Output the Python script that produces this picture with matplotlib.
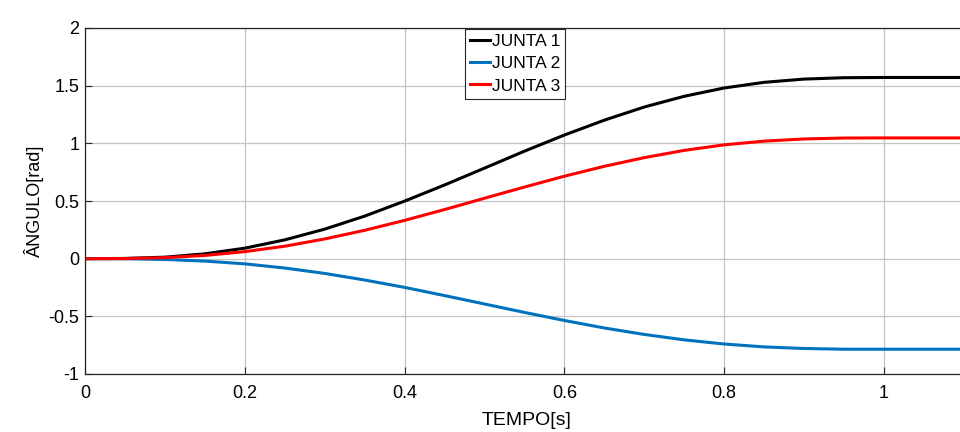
import matplotlib.pyplot as plt

plt.rcParams['font.family'] = ['Liberation Sans', 'DejaVu Sans']

# tempo [s]
tempo = [0.00, 0.05, 0.10, 0.15, 0.20, 0.25, 0.30, 0.35, 0.40, 0.45, 0.50,
         0.55, 0.60, 0.65, 0.70, 0.75, 0.80, 0.85, 0.90, 0.95, 1.00, 1.05, 1.10]

# ângulo das juntas [rad]
junta1 = [0.000, 0.002, 0.013, 0.042, 0.091, 0.163, 0.256, 0.369, 0.499, 0.639, 0.785,
          0.932, 1.072, 1.201, 1.315, 1.408, 1.480, 1.529, 1.557, 1.569, 1.571, 1.571, 1.571]
junta2 = [0.000, -0.001, -0.007, -0.021, -0.045, -0.081, -0.128, -0.185, -0.249, -0.320, -0.393,
          -0.466, -0.536, -0.601, -0.657, -0.704, -0.740, -0.765, -0.779, -0.785, -0.785, -0.785, -0.785]
junta3 = [0.000, 0.001, 0.009, 0.028, 0.061, 0.108, 0.171, 0.246, 0.332, 0.426, 0.524,
          0.621, 0.715, 0.801, 0.876, 0.939, 0.987, 1.019, 1.038, 1.046, 1.047, 1.047, 1.047]

xticks = [0, 0.2, 0.4, 0.6, 0.8, 1]
yticks = [-1, -0.5, 0, 0.5, 1, 1.5, 2]

fig = plt.figure(figsize=(9.6, 4.32), dpi=100)
# o eixo termina um pouco depois da borda direita
ax = fig.add_axes([85 / 960, 1 - 374 / 432, 1.105 * 799 / 960, 346 / 432])

ax.plot(tempo, junta1, color='black', lw=2.2, label='JUNTA 1')
ax.plot(tempo, junta2, color='#0072BD', lw=2.2, label='JUNTA 2')
ax.plot(tempo, junta3, color='#FF0000', lw=2.2, label='JUNTA 3')

ax.set_xlim(0, 1.105)
ax.set_ylim(-1, 2)
ax.set_xticks(xticks)
ax.set_xticklabels(['0', '0.2', '0.4', '0.6', '0.8', '1'])
ax.set_yticks(yticks)
ax.set_yticklabels(['-1', '-0.5', '0', '0.5', '1', '1.5', '2'])
ax.tick_params(direction='in', length=5, width=0.8, colors='#262626',
               labelsize=13, labelcolor='black')
ax.tick_params(axis='x', pad=8)
ax.tick_params(axis='y', pad=4)
ax.grid(True, color='#c4c4c4', lw=0.9)
ax.set_axisbelow(True)
for sp in ax.spines.values():
    sp.set_color('#262626')
    sp.set_linewidth(0.9)

ax.set_xlabel('TEMPO[s]', fontsize=14, labelpad=7)
ax.set_ylabel('ÂNGULO[rad]', fontsize=13, labelpad=3)

leg = fig.legend(loc='upper left', bbox_to_anchor=(465 / 960, 1 - 29 / 432),
                 fontsize=12.5, handlelength=1.15, handletextpad=0.1,
                 labelspacing=0.4, borderpad=0.3, borderaxespad=0,
                 fancybox=False, framealpha=1, edgecolor='#262626')
leg.get_frame().set_linewidth(0.8)

fig.savefig('out.png', dpi=100)
